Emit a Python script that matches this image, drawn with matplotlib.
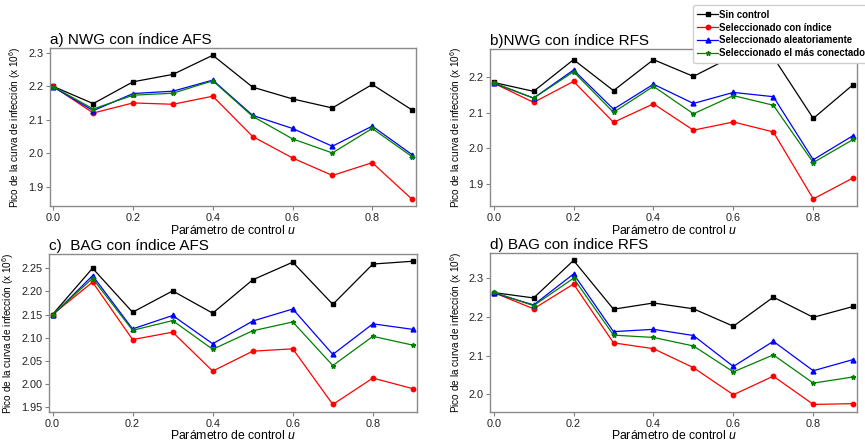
import matplotlib
matplotlib.use("Agg")
import matplotlib.pyplot as plt

plt.rcParams['font.family'] = ['Liberation Sans', 'DejaVu Sans']
plt.rcParams['mathtext.fontset'] = 'custom'
plt.rcParams['mathtext.rm'] = 'Liberation Sans'
plt.rcParams['mathtext.it'] = 'Liberation Sans:italic'

u = [0.0, 0.1, 0.2, 0.3, 0.4, 0.5, 0.6, 0.7, 0.8, 0.9]

series_names = ["Sin control", "Seleccionado con índice",
                "Seleccionado aleatoriamente", "Seleccionado el más conectado"]

titles = ["a) NWG con índice AFS", "b)NWG con índice RFS",
          "c)  BAG con índice AFS", "d) BAG con índice RFS"]

# picos de infección (x 10^6) para cada panel
nwg_afs_sin = [2.199, 2.148, 2.213, 2.235, 2.292, 2.197, 2.162, 2.135, 2.205, 2.129]
nwg_afs_ind = [2.199, 2.120, 2.150, 2.146, 2.170, 2.050, 1.986, 1.934, 1.972, 1.863]
nwg_afs_ale = [2.197, 2.127, 2.178, 2.185, 2.218, 2.113, 2.074, 2.021, 2.081, 1.996]
nwg_afs_con = [2.198, 2.132, 2.173, 2.179, 2.216, 2.110, 2.043, 2.001, 2.074, 1.990]

nwg_rfs_sin = [2.185, 2.160, 2.249, 2.162, 2.249, 2.202, 2.259, 2.256, 2.084, 2.179]
nwg_rfs_ind = [2.183, 2.129, 2.188, 2.073, 2.125, 2.051, 2.074, 2.046, 1.858, 1.917]
nwg_rfs_ale = [2.183, 2.141, 2.220, 2.110, 2.180, 2.126, 2.157, 2.145, 1.968, 2.036]
nwg_rfs_con = [2.184, 2.141, 2.215, 2.101, 2.174, 2.097, 2.148, 2.121, 1.960, 2.025]

bag_afs_sin = [2.150, 2.250, 2.155, 2.201, 2.153, 2.225, 2.263, 2.172, 2.259, 2.265]
bag_afs_ind = [2.150, 2.220, 2.096, 2.112, 2.028, 2.071, 2.076, 1.956, 2.013, 1.990]
bag_afs_ale = [2.148, 2.234, 2.119, 2.148, 2.087, 2.136, 2.162, 2.064, 2.130, 2.118]
bag_afs_con = [2.150, 2.228, 2.116, 2.137, 2.075, 2.115, 2.134, 2.040, 2.103, 2.084]

bag_rfs_sin = [2.263, 2.249, 2.346, 2.220, 2.236, 2.221, 2.176, 2.251, 2.199, 2.227]
bag_rfs_ind = [2.263, 2.221, 2.285, 2.133, 2.118, 2.069, 1.999, 2.047, 1.974, 1.976]
bag_rfs_ale = [2.262, 2.231, 2.311, 2.162, 2.168, 2.152, 2.072, 2.137, 2.061, 2.090]
bag_rfs_con = [2.264, 2.229, 2.300, 2.153, 2.147, 2.125, 2.058, 2.102, 2.029, 2.045]

panels = [
    [nwg_afs_sin, nwg_afs_ind, nwg_afs_ale, nwg_afs_con],
    [nwg_rfs_sin, nwg_rfs_ind, nwg_rfs_ale, nwg_rfs_con],
    [bag_afs_sin, bag_afs_ind, bag_afs_ale, bag_afs_con],
    [bag_rfs_sin, bag_rfs_ind, bag_rfs_ale, bag_rfs_con],
]

colors = ['k', 'r', 'b', 'g']
markers = ['s', 'o', '^', '*']
msizes = [3.2, 3.2, 3.5, 3.5]

# posiciones de los ejes [izq, abajo, ancho, alto] en fracción de figura
boxes = [
    [0.058, 0.536, 0.423, 0.356],
    [0.567, 0.537, 0.424, 0.353],
    [0.057, 0.075, 0.425, 0.354],
    [0.567, 0.075, 0.424, 0.356],
]

fig = plt.figure(figsize=(8.65, 4.45), dpi=100)

axes = []
for box, data, title in zip(boxes, panels, titles):
    ax = fig.add_axes(box)
    for vals, c, m, ms, name in zip(data, colors, markers, msizes, series_names):
        ax.plot(u, vals, color=c, marker=m, markersize=ms, linewidth=0.9, label=name)
    ax.set_xlim(-0.008, 0.91)
    ax.set_title(title, loc='left', fontsize=11, pad=3)
    ax.set_xlabel("Parámetro de control $u$", fontsize=8.8, labelpad=0.5)
    ax.set_ylabel("Pico de la curva de infección (x 10$^{6}$)", fontsize=7.2, labelpad=3.5)
    ax.tick_params(labelsize=7.8, color='#808080', length=3, width=0.8, pad=2,
                   labelcolor='#222222')
    for s in ax.spines.values():
        s.set_color('#8a8a8a')
        s.set_linewidth(1.0)
    axes.append(ax)

handles, labels = axes[1].get_legend_handles_labels()
leg = fig.legend(handles, labels, loc='upper left', bbox_to_anchor=(0.801, 0.988),
                 prop={'weight': 'bold', 'size': 6.9}, framealpha=1,
                 handlelength=2.2, handletextpad=0.1, labelspacing=0.3,
                 borderpad=0.45, borderaxespad=0.0)
leg.get_frame().set_edgecolor('#d0d0d0')

fig.savefig("out.png", dpi=100)
